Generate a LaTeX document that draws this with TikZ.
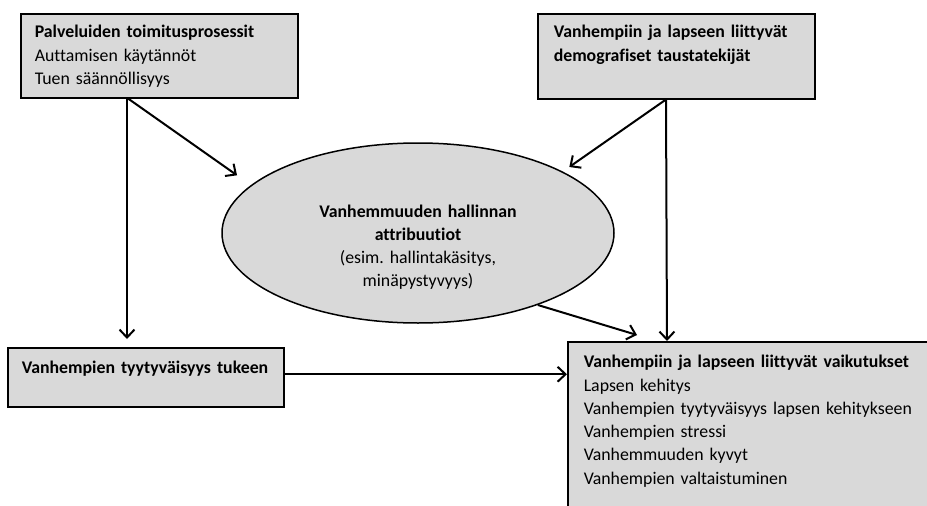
\documentclass[tikz,border=0pt]{standalone}
\usepackage{fontspec}
\setmainfont{Carlito}[Ligatures=NoCommon]
\usetikzlibrary{arrows.meta,shapes.geometric}
\definecolor{boxgray}{RGB}{217,217,217}
\definecolor{ink}{RGB}{0,0,0}
\tikzset{
  >={Straight Barb[length=8pt,width=15pt]},
  txt/.style={font=\fontsize{17.8}{23.3}\selectfont\frenchspacing},
  panel/.style={draw=ink,fill=boxgray,line width=1.5pt,txt,anchor=north west,
    align=left,inner ysep=0pt,text height=24pt},
  oval/.style={ellipse,draw=ink,fill=boxgray,line width=1.5pt,txt,
    align=center,inner sep=0pt},
  link/.style={->,line width=2pt,draw=ink},
}
\begin{document}
\begin{tikzpicture}[x=1pt,y=-1pt]
  \useasboundingbox (0,0) rectangle (927,506);
  \clip (0,0) rectangle (927,506);
  % boxes
  \node[panel,inner xsep=14pt,text width=249pt,text depth=60pt] (pal) at (20,13)
    {\textbf{Palveluiden toimitusprosessit}\\Auttamisen käytännöt\\Tuen säännöllisyys};
  \node[panel,inner xsep=16pt,text width=245pt,text depth=61pt] (dem) at (537,13)
    {\textbf{Vanhempiin ja lapseen liittyvät}\\\textbf{demografiset taustatekijät}};
  \node[panel,inner xsep=14pt,text width=248pt,text height=26pt,text depth=33pt] (tyy) at (7,347)
    {\textbf{Vanhempien tyytyväisyys tukeen}};
  \node[panel,inner xsep=16pt,text width=341pt,text height=26pt,text depth=180pt] (vaik) at (567,341)
    {\textbf{Vanhempiin ja lapseen liittyvät vaikutukset}\\Lapsen kehitys\\
     Vanhempien tyytyväisyys lapsen kehitykseen\\Vanhempien stressi\\
     Vanhemmuuden kyvyt\\Vanhempien valtaistuminen};
  \node[oval,minimum width=392pt,minimum height=180pt,text width=260pt,
    text height=39pt,text depth=71pt] (att) at (418,233)
    {\textbf{Vanhemmuuden hallinnan}\\\textbf{attribuutiot}\\(esim. hallintakäsitys,\\minäpystyvyys)};
  % arrows
  \draw[link,shorten >=8pt] ([xshift=107pt]pal.south west) -- ([xshift=120pt]tyy.north west);
  \draw[link,shorten >=17pt] ([xshift=108pt]pal.south west) -- (att.164);
  \draw[link,shorten >=8pt] ([xshift=129pt]dem.south west) -- (att.23);
  \draw[link] ([xshift=129pt]dem.south west) -- ([xshift=100pt]vaik.north west);
  \draw[link] (att.-31) -- ([xshift=70pt,yshift=6pt]vaik.north west);
  \draw[link] ([yshift=3pt]tyy.east) -- ([yshift=3pt]tyy.east -| vaik.west);
\end{tikzpicture}
\end{document}
